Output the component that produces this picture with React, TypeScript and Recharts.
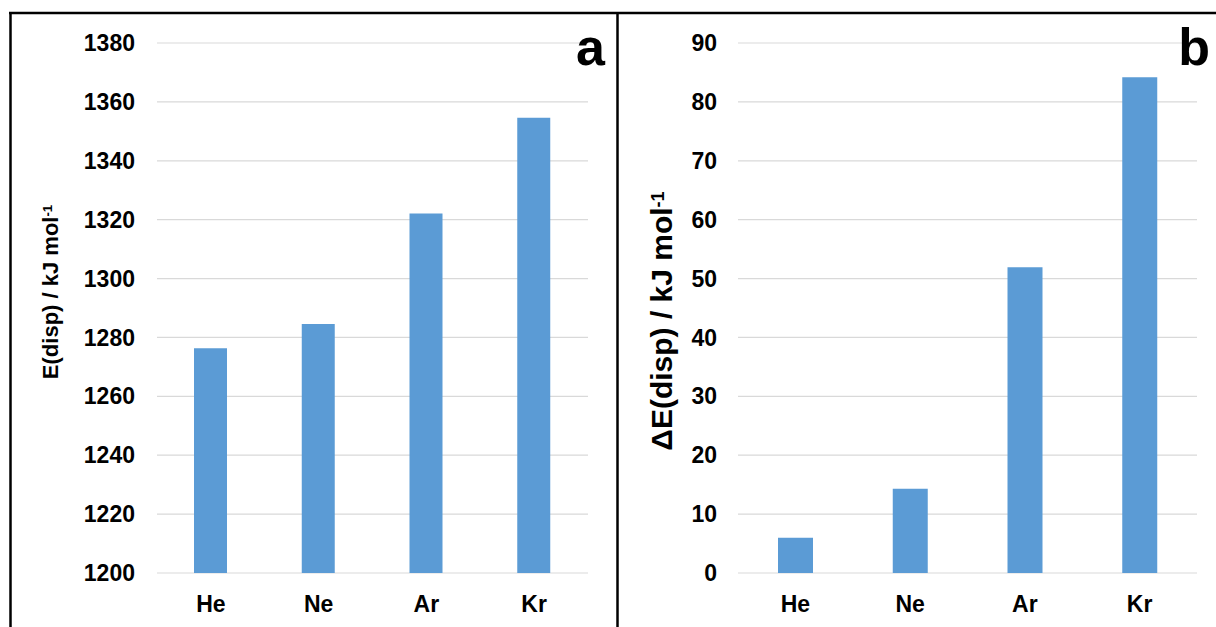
import React from 'react';
import { BarChart, Bar, XAxis, YAxis, CartesianGrid } from 'recharts';

const categories = ['He', 'Ne', 'Ar', 'Kr'];
const dispersionEnergy = [1276.3, 1284.6, 1322.1, 1354.6];
const dispersionDelta = [6.0, 14.3, 51.9, 84.2];
const leftTicks = [1200, 1220, 1240, 1260, 1280, 1300, 1320, 1340, 1360, 1380];
const rightTicks = [0, 10, 20, 30, 40, 50, 60, 70, 80, 90];

const leftData = categories.map((c, i) => ({ name: c, value: dispersionEnergy[i] }));
const rightData = categories.map((c, i) => ({ name: c, value: dispersionDelta[i] }));

const FONT = 'Arial, "Liberation Sans", Helvetica, sans-serif';
const BAR = '#5b9bd5';
const GRID = '#d9d9d9';

const tickStyle = { fill: '#000', fontSize: 23, fontWeight: 700, fontFamily: FONT };

export default function App() {
  return (
    <div style={{ position: 'absolute', left: 0, top: 0, width: 1216, height: 627, background: '#fff', fontFamily: FONT }}>
      <div style={{ position: 'absolute', left: 0, top: 0, width: 617, height: 627 }}>
        <BarChart width={617} height={627} data={leftData} margin={{ top: 43, right: 29, bottom: 0, left: 0 }}>
          <CartesianGrid vertical={false} stroke={GRID} strokeWidth={1.2} />
          <XAxis dataKey="name" height={54} axisLine={false} tickLine={false} tickSize={0} tickMargin={23} tick={tickStyle} interval={0} />
          <YAxis width={157} domain={[1200, 1380]} ticks={leftTicks} axisLine={false} tickLine={false} tickSize={0} tickMargin={22} tick={tickStyle} interval={0} />
          <Bar dataKey="value" fill={BAR} barSize={33} isAnimationActive={false} />
        </BarChart>
      </div>
      <div style={{ position: 'absolute', left: 617, top: 0, width: 599, height: 627 }}>
        <BarChart width={599} height={627} data={rightData} margin={{ top: 43, right: 19, bottom: 0, left: 0 }}>
          <CartesianGrid vertical={false} stroke={GRID} strokeWidth={1.2} />
          <XAxis dataKey="name" height={54} axisLine={false} tickLine={false} tickSize={0} tickMargin={23} tick={tickStyle} interval={0} />
          <YAxis width={121} domain={[0, 90]} ticks={rightTicks} axisLine={false} tickLine={false} tickSize={0} tickMargin={21} tick={tickStyle} interval={0} />
          <Bar dataKey="value" fill={BAR} barSize={35} isAnimationActive={false} />
        </BarChart>
      </div>
      <svg width={1216} height={627} style={{ position: 'absolute', left: 0, top: 0, pointerEvents: 'none' }}>
        <line x1={9} y1={13} x2={1216} y2={13} stroke="#000" strokeWidth={2.5} />
        <line x1={10.5} y1={12} x2={10.5} y2={627} stroke="#000" strokeWidth={2.5} />
        <line x1={617.5} y1={12} x2={617.5} y2={627} stroke="#000" strokeWidth={2.5} />
        <text x={605} y={65} textAnchor="end" fontSize={52} fontWeight={700} fontFamily={FONT} fill="#000">a</text>
        <text x={1210} y={65} textAnchor="end" fontSize={52} fontWeight={700} fontFamily={FONT} fill="#000">b</text>
        <text transform="translate(58.4, 292) rotate(-90)" textAnchor="middle" fontSize={22} fontWeight={700} fontFamily={FONT} fill="#000">
          E(disp) / kJ mol<tspan dy="-0.45em" fontSize="0.6em">-1</tspan>
        </text>
        <text transform="translate(672, 321) rotate(-90)" textAnchor="middle" fontSize={30} fontWeight={700} fontFamily={FONT} fill="#000">
          ΔE(disp) / kJ mol<tspan dy="-0.45em" fontSize="0.6em">-1</tspan>
        </text>
      </svg>
    </div>
  );
}
